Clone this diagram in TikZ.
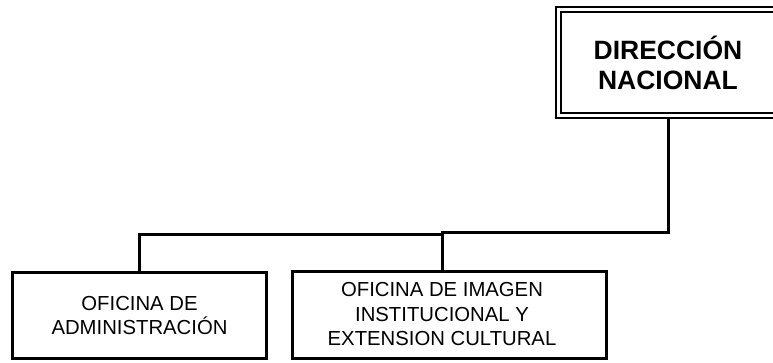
\documentclass[tikz,border=0pt]{standalone}
\usepackage{fontspec}
\setmainfont{Liberation Sans}
\begin{document}
\begin{tikzpicture}[x=1pt,y=-1pt,
  box/.style={draw, line width=3pt, align=center, inner sep=0pt,
    font=\fontsize{20.3}{24.5}\selectfont},
  dirbox/.style={draw, line width=2pt, double, double distance=3pt,
    outer sep=3.5pt, inner sep=0pt, minimum width=219pt, minimum height=106pt,
    align=center, font=\fontsize{26.5}{30}\selectfont\bfseries},
  conn/.style={line width=3pt}]
\useasboundingbox (0,0) rectangle (773,362);
\clip (0,0) rectangle (773,362);
\node[dirbox] (dir) at (668,62.5) {DIRECCIÓN\\NACIONAL};
\node[box, minimum width=254pt, minimum height=86pt] (adm) at (139.5,315.5)
  {OFICINA DE\\ADMINISTRACIÓN};
\node[box, minimum width=314pt, minimum height=87pt] (img) at (449.5,315) {};
\node[font=\fontsize{20.3}{24.5}\selectfont, align=center, inner sep=0pt]
  (imgt) at (442,314.5) {OFICINA DE IMAGEN\\INSTITUCIONAL Y\\EXTENSION CULTURAL};
\coordinate (j2) at (442,232);
\coordinate (j1) at (442,234.5);
\draw[conn] (dir.south) |- (j2) -- (j2 |- img.north);
\draw[conn] (j1) -| (adm.north);
\end{tikzpicture}
\end{document}
